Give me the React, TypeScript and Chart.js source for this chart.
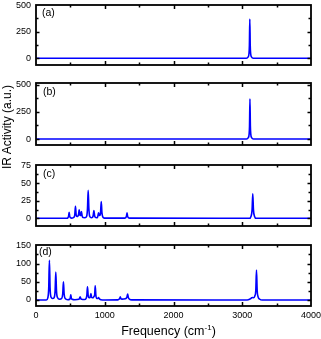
import React, { useEffect, useRef } from "react";
import { Chart, registerables } from "chart.js";

Chart.register(...registerables);

// ---- data ----
const xTickLabels = [0, 1000, 2000, 3000, 4000];
const xMinorTicks = [500, 1500, 2500, 3500];

const freqA = [0, 3060, 3085, 3098, 3104, 3110, 3116, 3122, 3135, 3160, 4000];
const irA = [0, 0, 12, 45, 120, 368, 120, 45, 12, 0, 0];

const freqB = [0, 3062, 3087, 3100, 3106, 3112, 3118, 3124, 3137, 3162, 4000];
const irB = [0, 0, 12, 45, 120, 370, 120, 45, 12, 0, 0];

const freqC = [
  0, 450, 464, 474, 482, 490, 500, 520,
  552, 564, 574, 584, 596, 608, 618, 628, 638, 645, 651, 661, 671, 684,
  712, 737, 749, 759, 769, 781, 806,
  822, 832, 842, 852, 862, 882,
  894, 902, 910, 918, 928, 939, 949, 959, 971, 995,
  1288, 1304, 1316, 1324, 1332, 1344, 1362,
  3105, 3128, 3143, 3153, 3163, 3178, 3202, 4000,
];
const irC = [
  0, 0, 0.8, 3, 8.6, 3, 0.8, 0.3,
  1.5, 5, 17, 5, 2.5, 3, 5, 12, 5, 4, 4.5, 9.5, 3.5, 1,
  0.8, 3, 14, 40, 14, 3, 0.8,
  1.5, 4, 11, 4, 1.5, 0.8,
  1.5, 4, 8, 5, 4, 8, 24, 8, 2, 0.3,
  0.2, 0.8, 3, 8, 3, 0.8, 0.2,
  0, 3, 12, 35, 12, 3, 0, 0,
];

const freqD = [
  0, 150, 172, 185, 195, 205, 218, 242,
  262, 278, 288, 298, 312, 345,
  372, 389, 399, 409, 424, 462,
  488, 498, 506, 514, 526, 565,
  622, 632, 642, 652, 664, 705,
  727, 739, 749, 759, 772, 787, 799, 809, 832,
  843, 853, 861, 871, 884, 896, 903, 910, 918, 942, 1005,
  1190, 1208, 1218, 1226, 1234, 1252, 1298, 1313, 1323, 1333, 1343, 1358, 1395,
  3070, 3115, 3138, 3150, 3163, 3183, 3197, 3207, 3217, 3230, 3255, 3290, 4000,
];
const irD = [
  0, 0, 6, 32, 109, 32, 8, 4,
  6, 25, 77, 25, 7, 2,
  4, 17, 50, 17, 4, 0.8,
  2, 5, 14, 5, 2, 0.8,
  2, 4, 9, 4, 2, 1.2,
  4, 12, 36, 12, 6, 7, 18, 7, 6,
  10, 13, 39, 13, 4, 4, 5, 7, 4, 0.8, 0,
  0.3, 2.5, 4, 9, 4, 2.5, 3.5, 5, 8, 16, 7, 2.5, 0.3,
  0, 3, 6, 7, 6, 11, 26, 82, 26, 9, 2, 0, 0,
];

const yTicksA = [0, 250, 500];
const yMinorA = [125, 375];
const yTicksC = [0, 25, 50, 75];
const yMinorC = [12.5, 37.5, 62.5];
const yTicksD = [0, 50, 100, 150];
const yMinorD = [25, 75, 125];

// ---- layout / style ----
const W = 321;
const H = 339;
const FONT = "'Liberation Sans', Arial, Helvetica, sans-serif";
const LINE = "#0000ff";

type Panel = {
  label: string;
  freq: number[];
  ir: number[];
  yMin: number;
  yMax: number;
  yTicks: number[];
  yMinor: number[];
  top: number;
  bottom: number;
  showX: boolean;
  lx: number;
  ly: number;
};

const panels: Panel[] = [
  { label: "(a)", freq: freqA, ir: irA, yMin: -63, yMax: 501, yTicks: yTicksA, yMinor: yMinorA, top: 5, bottom: 65, showX: false, lx: 6, ly: 3 },
  { label: "(b)", freq: freqB, ir: irB, yMin: -55, yMax: 515, yTicks: yTicksA, yMinor: yMinorA, top: 83, bottom: 145, showX: false, lx: 7, ly: 4 },
  { label: "(c)", freq: freqC, ir: irC, yMin: -11, yMax: 76, yTicks: yTicksC, yMinor: yMinorC, top: 165, bottom: 226, showX: false, lx: 7, ly: 4 },
  { label: "(d)", freq: freqD, ir: irD, yMin: -16.5, yMax: 151, yTicks: yTicksD, yMinor: yMinorD, top: 245, bottom: 306, showX: true, lx: 3, ly: 2 },
];

function PanelChart({ p }: { p: Panel }) {
  const ref = useRef<HTMLCanvasElement | null>(null);
  useEffect(() => {
    if (!ref.current) return;
    const framePlugin = {
      id: "frame" + p.label,
      afterDraw(chart: any) {
        const ctx = chart.ctx;
        const { left, right, top, bottom } = chart.chartArea;
        const xs = chart.scales.x;
        const ys = chart.scales.y;
        ctx.save();
        ctx.strokeStyle = "#000";
        ctx.lineWidth = 1.5;
        ctx.beginPath();
        const tick = (v: number, len: number, horiz: boolean) => {
          if (horiz) {
            const px = Math.round(xs.getPixelForValue(v)) + 0.5;
            ctx.moveTo(px, bottom);
            ctx.lineTo(px, bottom - len);
            ctx.moveTo(px, top);
            ctx.lineTo(px, top + len);
          } else {
            const py = Math.round(ys.getPixelForValue(v)) + 0.5;
            ctx.moveTo(left, py);
            ctx.lineTo(left + len, py);
            ctx.moveTo(right, py);
            ctx.lineTo(right - len, py);
          }
        };
        xTickLabels.forEach((v) => {
          if (v > 0 && v < 4000) tick(v, 4, true);
        });
        xMinorTicks.forEach((v) => tick(v, 2.5, true));
        p.yTicks.forEach((v) => {
          if (v > p.yMin && v < p.yMax - 2) tick(v, 3.5, false);
        });
        p.yMinor.forEach((v) => tick(v, 2.5, false));
        ctx.stroke();
        ctx.lineWidth = 1.8;
        ctx.strokeRect(left, top, right - left, bottom - top);
        ctx.fillStyle = "#000";
        ctx.font = `10.5px ${FONT}`;
        ctx.textBaseline = "top";
        ctx.textAlign = "left";
        ctx.fillText(p.label, left + p.lx, top + p.ly);
        ctx.restore();
      },
    };
    const xBoxHeight = p.showX ? H - p.bottom : 0;
    const chart = new Chart(ref.current, {
      type: "line",
      data: {
        datasets: [
          {
            data: p.freq.map((x, i) => ({ x, y: p.ir[i] })),
            borderColor: LINE,
            borderWidth: 1.6,
            pointRadius: 0,
            fill: false,
            cubicInterpolationMode: "monotone",
          },
        ],
      },
      options: {
        responsive: false,
        animation: false,
        devicePixelRatio: 1,
        layout: {
          padding: { top: p.top, bottom: H - p.bottom - xBoxHeight, left: 0, right: 10 },
        },
        plugins: { legend: { display: false }, tooltip: { enabled: false } },
        scales: {
          x: {
            type: "linear",
            position: "bottom",
            min: 0,
            max: 4000,
            grid: { display: false, drawTicks: false },
            border: { display: false },
            afterBuildTicks: (s: any) => {
              s.ticks = xTickLabels.map((v) => ({ value: v }));
            },
            afterFit: (s: any) => {
              s.height = xBoxHeight;
              s.paddingLeft = 0;
              s.paddingRight = 0;
              s.paddingTop = 0;
              s.paddingBottom = 0;
            },
            ticks: {
              display: p.showX,
              color: "#000",
              padding: 4,
              maxRotation: 0,
              autoSkip: false,
              font: { family: FONT, size: 9 },
              callback: (v: any) => String(v),
            },
          },
          y: {
            type: "linear",
            min: p.yMin,
            max: p.yMax,
            grid: { display: false, drawTicks: false },
            border: { display: false },
            afterBuildTicks: (s: any) => {
              s.ticks = p.yTicks.map((v) => ({ value: v }));
            },
            afterFit: (s: any) => {
              s.width = 36;
              s.paddingTop = 0;
              s.paddingBottom = 0;
            },
            ticks: {
              color: "#000",
              padding: 5,
              autoSkip: false,
              font: { family: FONT, size: 9 },
              callback: (v: any) => String(v),
            },
          },
        },
      },
      plugins: [framePlugin],
    } as any);
    return () => chart.destroy();
  }, [p]);
  return (
    <canvas
      ref={ref}
      width={W}
      height={H}
      style={{ position: "absolute", left: 0, top: 0, width: W, height: H }}
    />
  );
}

export default function App() {
  return (
    <div
      style={{
        position: "fixed",
        left: 0,
        top: 0,
        width: W,
        height: H,
        background: "#fff",
        overflow: "hidden",
        fontFamily: FONT,
      }}
    >
      {panels.map((p) => (
        <PanelChart key={p.label} p={p} />
      ))}
      <div
        style={{
          position: "absolute",
          left: 7,
          top: 127,
          transform: "translate(-50%, -50%) rotate(-90deg)",
          whiteSpace: "nowrap",
          fontSize: 12,
          lineHeight: "14px",
          color: "#000",
        }}
      >
        IR Activity (a.u.)
      </div>
      <div
        style={{
          position: "absolute",
          left: 168.5,
          top: 324,
          transform: "translateX(-50%)",
          whiteSpace: "nowrap",
          fontSize: 12.5,
          lineHeight: "14px",
          color: "#000",
        }}
      >
        Frequency (cm<sup style={{ fontSize: 8, lineHeight: 0, verticalAlign: "5px" }}>-1</sup>)
      </div>
    </div>
  );
}
